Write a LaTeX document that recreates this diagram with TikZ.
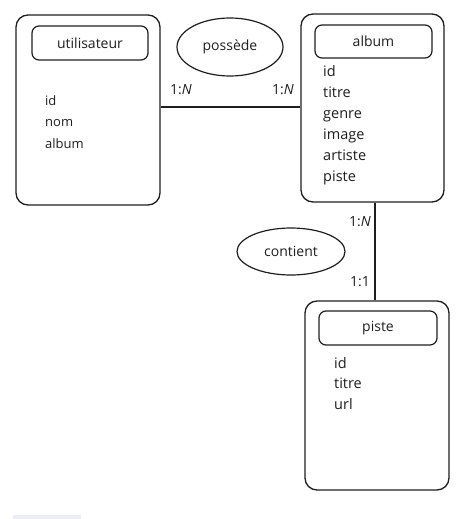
\documentclass[tikz,border=0pt]{standalone}
\usepackage{fontspec}
\setmainfont{Open Sans}
\usetikzlibrary{shapes.geometric}
\definecolor{ink}{HTML}{1E1E1E}
\definecolor{barcol}{HTML}{ECECF4}
\tikzset{
  entity/.style={draw=ink, line width=1.3pt, rounded corners=12pt, inner sep=0pt},
  titlebox/.style={draw=ink, line width=1.2pt, rounded corners=7pt, inner sep=0pt, font=\fontsize{14}{16}\selectfont, text=ink},
  attrs/.style={anchor=north west, align=left, inner sep=0pt, text=ink},
  relation/.style={draw=ink, line width=1.2pt, ellipse, inner sep=0pt, font=\fontsize{14}{16}\selectfont, text=ink},
  card/.style={inner sep=0pt, font=\fontsize{14}{16}\selectfont, text=ink},
  link/.style={draw=ink, line width=1.2pt}
}
\begin{document}
\begin{tikzpicture}[x=1pt,y=-1pt]
\useasboundingbox (0,0) rectangle (471,519);
\fill[barcol] (13,515) rectangle (81,519);
% utilisateur
\node[entity, minimum width=144pt, minimum height=190pt] (u) at (88,110) {};
\node[titlebox, minimum width=116pt, minimum height=34pt] (ut) at (90,43) {utilisateur};
\node[attrs, font=\fontsize{13}{21.5}\selectfont] (ua) at (45,95) {id\\nom\\album};
% album
\node[entity, minimum width=143pt, minimum height=188pt] (a) at (372.5,108) {};
\node[titlebox, minimum width=117pt, minimum height=33pt] (at) at (373.5,41.5) {album};
\node[attrs, font=\fontsize{14.5}{21}\selectfont] (aa) at (323,65) {id\\titre\\genre\\image\\artiste\\piste};
% piste
\node[entity, minimum width=144pt, minimum height=189pt] (p) at (377,395.5) {};
\node[titlebox, minimum width=118pt, minimum height=34pt] (pt) at (378,328) {piste};
\node[attrs, font=\fontsize{14.5}{20.5}\selectfont] (pa) at (334,357) {id\\titre\\url};
% relations
\node[relation, minimum width=106pt, minimum height=58pt] (r1) at (230,47) {possède};
\node[relation, minimum width=108pt, minimum height=47pt] (r2) at (291,251.5) {contient};
% connectors
\draw[link] (u.east |- 0,107) -- (a.west |- 0,107);
\draw[link] ([xshift=2.5pt]a.south) -- ([xshift=-2pt]p.north);
% cardinalities
\node[card] (c1) at (181,90) {1:\textit{N}};
\node[card] (c2) at (283,90) {1:\textit{N}};
\node[card] (c3) at (360,222) {1:\textit{N}};
\node[card] (c4) at (360,282) {1:1};
\end{tikzpicture}
\end{document}
